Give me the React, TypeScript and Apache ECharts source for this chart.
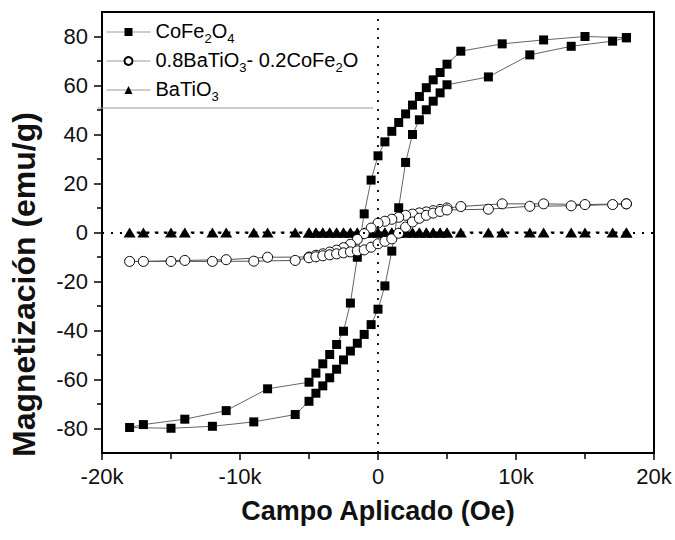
import React, { useEffect, useRef } from "react";
import * as echarts from "echarts";

// Applied field (Oe): descending branch (from +18k) and ascending branch (from -18k)
const fieldDown = [18000, 15000, 12000, 9000, 6000, 5000, 4500, 4000, 3500, 3000, 2500, 2000, 1500, 1000, 500, 0, -500, -1000, -1500, -2000, -2500, -3000, -3500, -4000, -4500, -5000, -8000, -11000, -14000, -17000, -18000];
const fieldUp = [-15000, -12000, -9000, -6000, -5000, -4500, -4000, -3500, -3000, -2500, -2000, -1500, -1000, -500, 0, 500, 1000, 1500, 2000, 2500, 3000, 3500, 4000, 4500, 5000, 8000, 11000, 14000, 17000, 18000];

// CoFe2O4 magnetization (emu/g)
const coDown = [79.5, 80.0, 78.6, 77.0, 74.0, 68.7, 65.3, 62.3, 59.1, 55.5, 52.0, 48.4, 44.9, 41.3, 37.0, 31.3, 21.4, 7.6, -10.1, -28.8, -40.3, -45.7, -49.8, -53.6, -57.4, -61.1, -63.8, -72.7, -76.2, -78.4, -79.6];
const coUp = [-79.9, -79.1, -77.3, -74.3, -68.9, -65.6, -62.6, -59.3, -55.8, -52.0, -48.4, -45.2, -41.6, -37.6, -31.3, -21.8, -7.6, 10.1, 28.6, 40.0, 46.0, 50.1, 53.6, 57.0, 60.3, 63.5, 72.5, 76.0, 78.1, 79.5];

// 0.8BaTiO3 - 0.2CoFe2O4 magnetization (emu/g)
const mixDown = [11.7, 11.4, 11.7, 11.7, 10.6, 10.0, 9.4, 8.9, 8.4, 8.0, 7.5, 7.0, 6.2, 5.4, 4.6, 3.8, 1.8, -0.5, -2.8, -4.8, -6.2, -7.2, -8.0, -8.7, -9.3, -10.0, -10.1, -11.1, -11.4, -11.8, -11.8];
const mixUp = [-11.8, -11.8, -11.7, -11.4, -10.3, -9.9, -9.5, -9.1, -8.7, -8.3, -7.9, -7.5, -7.1, -6.0, -4.6, -3.6, -2.6, -0.3, 2.2, 4.3, 5.8, 7.0, 7.9, 8.6, 9.2, 9.5, 10.7, 10.9, 11.4, 11.7];

// BaTiO3 magnetization (emu/g)
const btDown = [0, 0, 0, 0, 0, 0, 0, 0, 0, 0, 0, 0, 0, 0, 0, 0, 0, 0, 0, 0, 0, 0, 0, 0, 0, 0, 0, 0, 0, 0, 0];
const btUp = [0, 0, 0, 0, 0, 0, 0, 0, 0, 0, 0, 0, 0, 0, 0, 0, 0, 0, 0, 0, 0, 0, 0, 0, 0, 0, 0, 0, 0, 0];

const seriesNames = ["CoFe2O4", "0.8BaTiO3- 0.2CoFe2O", "BaTiO3"];
const legendRich: Record<string, string> = {
  "CoFe2O4": "{n|CoFe}{s|2}{n|O}{s|4}",
  "0.8BaTiO3- 0.2CoFe2O": "{n|0.8BaTiO}{s|3}{n|- 0.2CoFe}{s|2}{n|O}",
  "BaTiO3": "{n|BaTiO}{s|3}",
};

const yLabelTicks = [-80, -60, -40, -20, 0, 20, 40, 60, 80];
const yMinorTicks = [-70, -50, -30, -10, 10, 30, 50, 70];

const FONT = "Liberation Sans, Arial, sans-serif";

function loop(xd: number[], yd: number[], xu: number[], yu: number[]) {
  const pts: number[][] = [];
  xd.forEach((x, i) => pts.push([x, yd[i]]));
  xu.forEach((x, i) => pts.push([x, yu[i]]));
  return pts;
}

export default function App() {
  const ref = useRef<HTMLDivElement>(null);
  useEffect(() => {
    if (!ref.current) return;
    const chart = echarts.init(ref.current, null, { renderer: "svg" });
    const option: any = {
      animation: false,
      backgroundColor: "#fff",
      grid: { left: 98, right: 21, top: 12, bottom: 87, show: true, borderColor: "#000", borderWidth: 2, backgroundColor: "transparent" },
      legend: {
        data: seriesNames,
        orient: "vertical",
        left: 101,
        top: 16,
        itemWidth: 44,
        itemHeight: 10,
        itemGap: 5,
        lineStyle: { color: "#9a9a9a", width: 1, type: "solid" },
        formatter: (name: string) => legendRich[name] || name,
        textStyle: {
          fontFamily: FONT,
          color: "#000",
          rich: {
            n: { fontFamily: FONT, fontSize: 20, lineHeight: 22, color: "#000", verticalAlign: "top" },
            s: { fontFamily: FONT, fontSize: 13, lineHeight: 13, color: "#000", verticalAlign: "top", padding: [11, 0, 0, 0] },
          },
        },
      },
      graphic: [
        { type: "line", shape: { x1: 98, y1: 108, x2: 373, y2: 108 }, style: { stroke: "#9a9a9a", lineWidth: 1 }, z: 10 },
      ],
      xAxis: {
        type: "value",
        min: -20000,
        max: 20000,
        interval: 10000,
        axisLine: { show: true, onZero: false, lineStyle: { color: "#000", width: 2 } },
        axisTick: { show: true, inside: false, length: 7, lineStyle: { color: "#000", width: 1.5 } },
        minorTick: { show: true, splitNumber: 2, length: 6, lineStyle: { color: "#000", width: 1.5 } },
        splitLine: { show: false },
        minorSplitLine: { show: false },
        axisLabel: {
          fontFamily: FONT,
          fontSize: 22,
          color: "#111",
          margin: 12,
          formatter: (v: number) => (v === 0 ? "0" : v / 1000 + "k"),
        },
        name: "Campo Aplicado (Oe)",
        nameLocation: "middle",
        nameGap: 44,
        nameTextStyle: { fontFamily: FONT, fontWeight: "bold", fontSize: 27, color: "#111" },
      },
      yAxis: [
        {
          type: "value",
          min: -90,
          max: 90,
          interval: 10,
          axisLine: { show: true, onZero: false, lineStyle: { color: "#000", width: 2 } },
          axisTick: { show: true, inside: false, length: 8, customValues: yLabelTicks, lineStyle: { color: "#000", width: 1.5 } },
          splitLine: { show: false },
          axisLabel: { fontFamily: FONT, fontSize: 22, color: "#111", margin: 14, customValues: yLabelTicks },
          name: "Magnetización (emu/g)",
          nameLocation: "middle",
          nameGap: 62,
          nameTextStyle: { fontFamily: FONT, fontWeight: "bold", fontSize: 32, color: "#111", padding: [0, 104, 0, 0] },
        },
        {
          type: "value",
          min: -90,
          max: 90,
          interval: 10,
          position: "left",
          axisLine: { show: false, onZero: false },
          axisTick: { show: true, inside: false, length: 5, customValues: yMinorTicks, lineStyle: { color: "#000", width: 1.5 } },
          axisLabel: { show: false },
          splitLine: { show: false },
        },
      ],
      series: [
        {
          name: seriesNames[0],
          type: "line",
          data: loop(fieldDown, coDown, fieldUp, coUp),
          symbol: "rect",
          symbolSize: 9,
          itemStyle: { color: "#000" },
          lineStyle: { color: "#666", width: 1 },
          z: 3,
        },
        {
          name: seriesNames[1],
          type: "line",
          data: loop(fieldDown, mixDown, fieldUp, mixUp),
          symbol: "circle",
          symbolSize: 10,
          itemStyle: { color: "#fff", borderColor: "#000", borderWidth: 1 },
          lineStyle: { color: "#555", width: 1 },
          z: 4,
        },
        {
          name: seriesNames[2],
          type: "line",
          data: loop(fieldDown, btDown, fieldUp, btUp),
          symbol: "triangle",
          symbolSize: [12, 10],
          itemStyle: { color: "#000" },
          lineStyle: { color: "#000", width: 1.8, type: [2, 7] },
          z: 2,
          markLine: {
            silent: true,
            symbol: ["none", "none"],
            label: { show: false },
            lineStyle: { color: "#000", type: [2, 7], width: 1.8 },
            data: [{ xAxis: 0 }, { yAxis: 0 }],
          },
        },
      ],
    };
    chart.setOption(option);
    return () => chart.dispose();
  }, []);
  return <div ref={ref} style={{ position: "fixed", left: 0, top: 0, width: 675, height: 540 }} />;
}
